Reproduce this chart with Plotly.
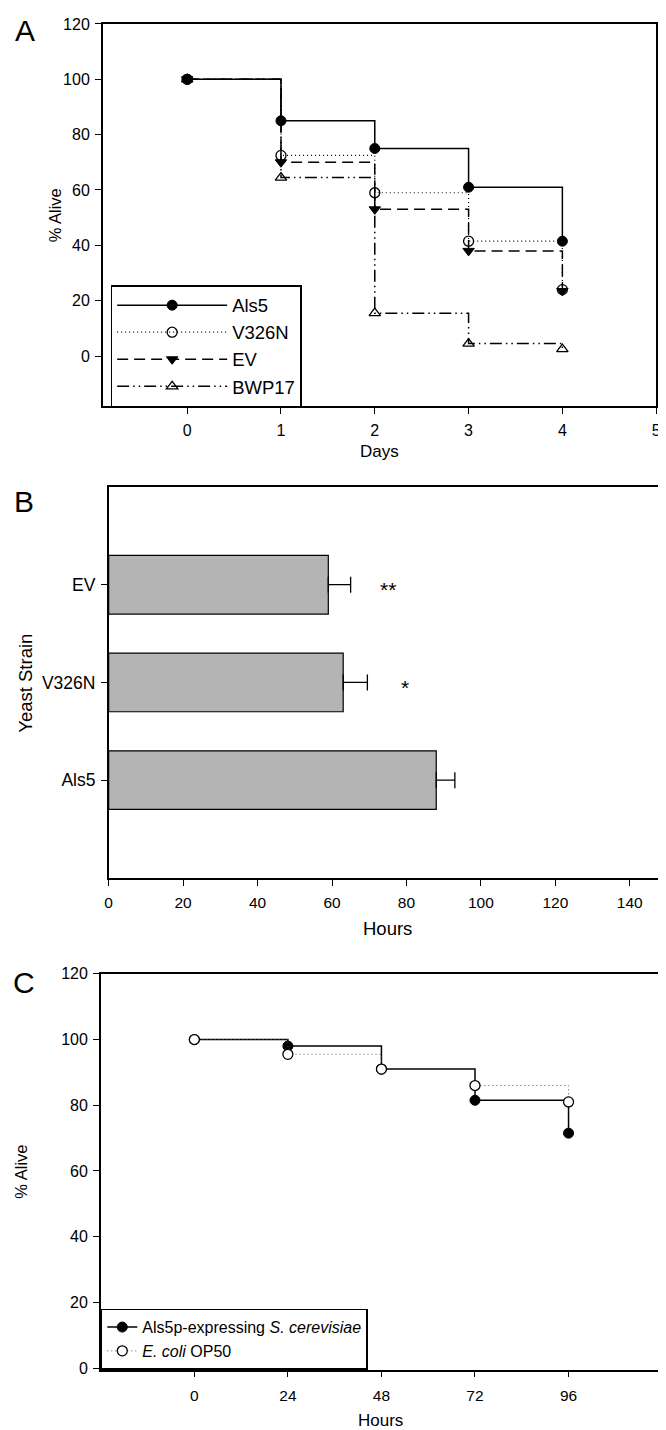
import plotly.graph_objects as go

W, H = 666, 1430


def px(x):
    return x / W


def py(y):
    return 1 - y / H


# ---------------- Panel A: survival by day ----------------
days = [0, 1, 2, 3, 4]
als5_alive = [100, 85, 75, 61, 41.5]
v326n_alive = [100, 72.5, 59, 41.5, 24]
ev_alive = [100, 70, 53, 38, 23.5]
bwp17_alive = [100, 64.5, 15.5, 4.5, 2.5]
a_xticks = [0, 1, 2, 3, 4, 5]
a_yticks = [0, 20, 40, 60, 80, 100, 120]

# ---------------- Panel B: mean survival hours ----------------
strains = ["Als5", "V326N", "EV"]
mean_hours = [88, 63, 59]
sem_hours = [5, 6.5, 6]
significance = ["", "*", "**"]
b_xticks = [0, 20, 40, 60, 80, 100, 120, 140]

# ---------------- Panel C: survival by hours ----------------
hours = [0, 24, 48, 72, 96]
als5p_alive = [100, 98, 91, 81.5, 71.5]
op50_alive = [100, 95.5, 91, 86, 81]
c_xticks = [0, 24, 48, 72, 96]
c_yticks = [0, 20, 40, 60, 80, 100, 120]

FONT = "Liberation Sans, Arial, sans-serif"
BLACK = "#000000"

fig = go.Figure()

# Panel A traces
fig.add_trace(go.Scatter(
    x=days, y=als5_alive, name="Als5", mode="lines+markers",
    line=dict(shape="hv", color=BLACK, width=1.5),
    marker=dict(symbol="circle", size=10, color=BLACK, line=dict(color=BLACK, width=1)),
    xaxis="x", yaxis="y", legend="legend"))
fig.add_trace(go.Scatter(
    x=days, y=v326n_alive, name="V326N", mode="lines+markers",
    line=dict(shape="hv", color=BLACK, width=1.2, dash="1px,3px"),
    marker=dict(symbol="circle-open", size=10, color=BLACK, line=dict(color=BLACK, width=1.3)),
    xaxis="x", yaxis="y", legend="legend"))
fig.add_trace(go.Scatter(
    x=days, y=ev_alive, name="EV", mode="lines+markers",
    line=dict(shape="hv", color=BLACK, width=1.5, dash="11px,6px"),
    marker=dict(symbol="triangle-down", size=10, color=BLACK, line=dict(color=BLACK, width=1)),
    xaxis="x", yaxis="y", legend="legend"))
fig.add_trace(go.Scatter(
    x=days, y=bwp17_alive, name="BWP17", mode="lines+markers",
    line=dict(shape="hv", color=BLACK, width=1.5, dash="12px,4px,1.5px,4px,1.5px,4px"),
    marker=dict(symbol="triangle-up-open", size=10, color=BLACK, line=dict(color=BLACK, width=1.3)),
    xaxis="x", yaxis="y", legend="legend"))

# Panel B bars
fig.add_trace(go.Bar(
    y=strains, x=mean_hours, orientation="h", width=0.6,
    marker=dict(color="#b4b4b4", line=dict(color=BLACK, width=1.2)),
    error_x=dict(type="data", symmetric=False, array=sem_hours,
                 arrayminus=[0] * len(sem_hours), color=BLACK, thickness=1.3, width=8),
    showlegend=False, xaxis="x2", yaxis="y2"))

# Panel C traces
fig.add_trace(go.Scatter(
    x=hours, y=als5p_alive, name="Als5p-expressing <i>S. cerevisiae</i>", mode="lines+markers",
    line=dict(shape="hv", color=BLACK, width=1.5),
    marker=dict(symbol="circle", size=10, color=BLACK, line=dict(color=BLACK, width=1)),
    xaxis="x3", yaxis="y3", legend="legend2"))
fig.add_trace(go.Scatter(
    x=hours, y=op50_alive, name="<i>E. coli</i> OP50", mode="lines+markers",
    line=dict(shape="hv", color="#555555", width=1, dash="1px,3px"),
    marker=dict(symbol="circle", size=10, color="white", line=dict(color=BLACK, width=1.3)),
    xaxis="x3", yaxis="y3", legend="legend2"))

axis_common = dict(
    showline=True, linecolor=BLACK, linewidth=1.5, mirror=True,
    ticks="outside", ticklen=6, tickwidth=1.2, tickcolor=BLACK,
    showgrid=False, zeroline=False,
    tickfont=dict(family=FONT, size=16, color=BLACK),
)

annotations = []

# Significance stars
for s, m, e, label in zip(strains, mean_hours, sem_hours, significance):
    if label:
        annotations.append(dict(
            x=m + e + 10, y=s, xref="x2", yref="y2", text=label, showarrow=False,
            font=dict(family=FONT, size=21, color=BLACK), yshift=-5))

# Panel letters
for letter, cx, cy in [("A", 13, 15), ("B", 12, 491), ("C", 12, 977)]:
    annotations.append(dict(
        x=px(cx), y=py(cy), xref="paper", yref="paper", text=letter, showarrow=False,
        xanchor="center", yanchor="middle", font=dict(family=FONT, size=30, color=BLACK)))


# Axis titles
def title(text, cx, cy, size, angle=0):
    annotations.append(dict(
        x=px(cx), y=py(cy), xref="paper", yref="paper", text=text, showarrow=False,
        xanchor="center", yanchor="middle", textangle=angle,
        font=dict(family=FONT, size=size, color=BLACK)))


title("% Alive", 43, 201, 16.5, -90)
title("Days", 373, 440, 17)
title("Yeast Strain", 14, 674, 18.5, -90)
title("Hours", 381, 922, 18.5)
title("% Alive", 9, 1168, 16.5, -90)
title("Hours", 374, 1419, 17)

fig.update_layout(
    width=W, height=H, margin=dict(l=0, r=0, t=0, b=0),
    paper_bgcolor="white", plot_bgcolor="white",
    font=dict(family=FONT, color=BLACK),
    xaxis=dict(axis_common, domain=[px(92), px(653)], range=[-0.9, 5],
               tickvals=a_xticks, anchor="y", ticklabelstandoff=3),
    yaxis=dict(axis_common, domain=[py(394), py(8)], range=[-18, 120],
               tickvals=a_yticks, anchor="x", ticklabelstandoff=2),
    xaxis2=dict(axis_common, domain=[px(98), px(664)], range=[0, 150],
                tickvals=b_xticks, anchor="y2", ticklabelstandoff=4,
                tickfont=dict(family=FONT, size=15.5, color=BLACK)),
    yaxis2=dict(axis_common, domain=[py(871), py(476)], range=[-1, 3],
                type="category", categoryorder="array", categoryarray=strains,
                anchor="x2", ticklabelstandoff=2,
                tickfont=dict(family=FONT, size=17.5, color=BLACK)),
    xaxis3=dict(axis_common, domain=[px(90), px(659)], range=[-24, 120],
                tickvals=c_xticks, anchor="y3", ticklabelstandoff=5,
                tickfont=dict(family=FONT, size=15.5, color=BLACK)),
    yaxis3=dict(axis_common, domain=[py(1368), py(968)], range=[-0.5, 120],
                tickvals=c_yticks, anchor="x3", ticklabelstandoff=2),
    legend=dict(x=px(100), y=py(272), xanchor="left", yanchor="top",
                bordercolor=BLACK, borderwidth=1.5, bgcolor="white",
                font=dict(family=FONT, size=18.5, color=BLACK), itemwidth=110,
                traceorder="normal"),
    legend2=dict(x=px(90), y=py(1368), xanchor="left", yanchor="bottom",
                 bordercolor=BLACK, borderwidth=1.5, bgcolor="white",
                 font=dict(family=FONT, size=16, color=BLACK),
                 traceorder="normal"),
    annotations=annotations,
    showlegend=True,
    bargap=0.4,
)

fig.write_html("out.html")
